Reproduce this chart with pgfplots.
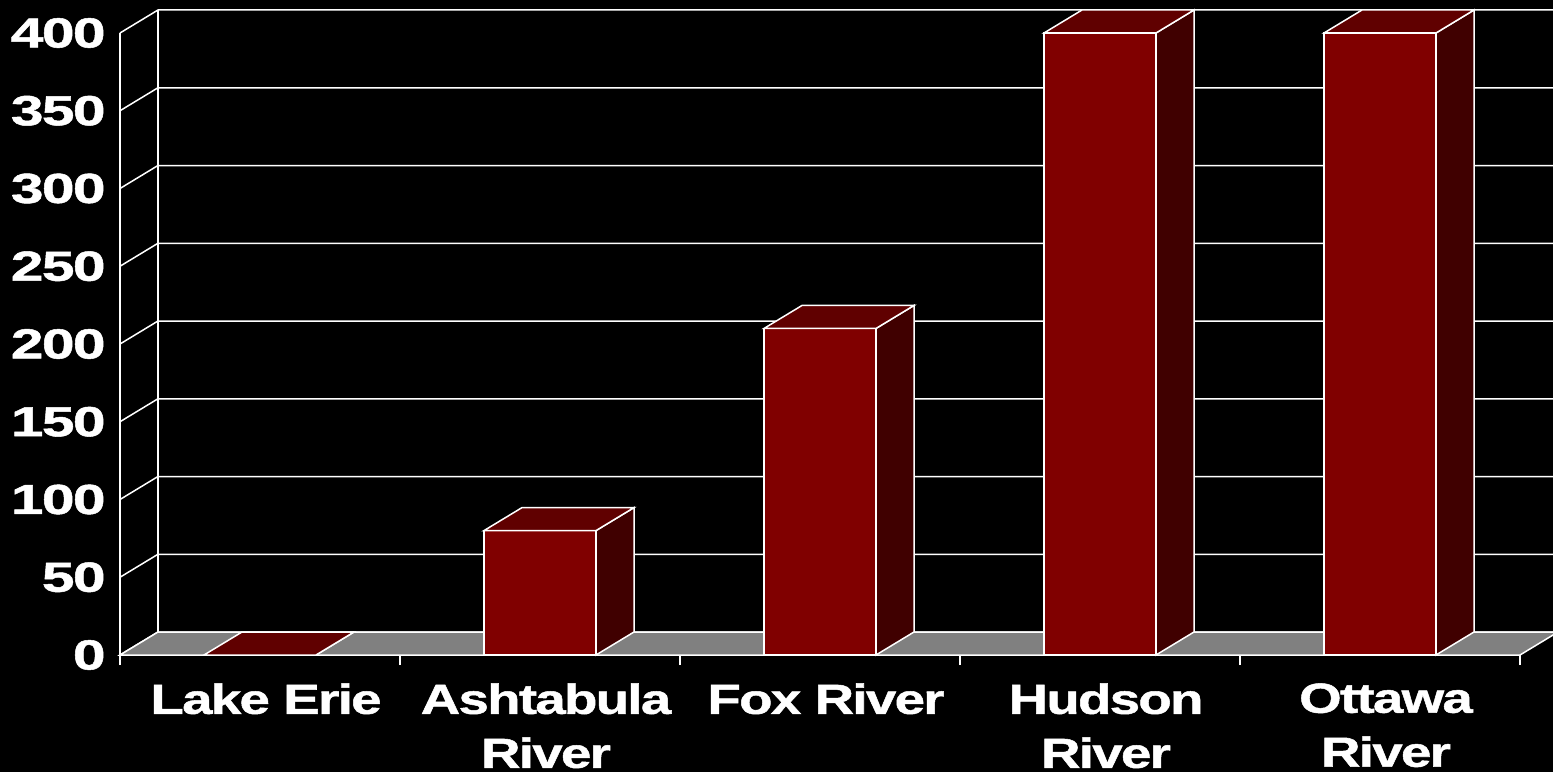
\documentclass[border=0pt]{standalone}
\usepackage{pgfplots}
\pgfplotsset{compat=1.18}
\usepackage{fontspec}
\setmainfont{Liberation Sans}
\newfontfamily\tickfont{Liberation Sans}[FakeStretch=1.4, FakeBold=1.2, LetterSpace=-4]
\newfontfamily\labfont{Liberation Sans}[FakeStretch=1.3, FakeBold=1.2, LetterSpace=-4]
\definecolor{barfront}{HTML}{800000}
\definecolor{bartop}{HTML}{600000}
\definecolor{barside}{HTML}{400000}
\definecolor{floorgray}{HTML}{808080}
\pgfdeclareplotmark{blank}{}

\begin{document}
\begin{tikzpicture}
\fill[black] (-60pt,-58.5pt) rectangle (716.5pt,327.5pt);
\begin{axis}[
  at={(0,0)}, anchor=south west,
  x=140pt, y=0.7775pt,
  xmin=0, xmax=5, ymin=0, ymax=400,
  enlargelimits=false, clip=false,
  axis line style={draw=none},
  xtick={0.5,1.5,2.5,3.5,4.5},
  xticklabels={Lake Erie, {Ashtabula\\River}, Fox River, {Hudson\\River}, {Ottawa\\River}},
  minor xtick={0,1,2,3,4,5},
  ytick={0,50,100,150,200,250,300,350,400},
  yticklabels={0,50,100,150,200,250,300,350,400},
  xtick pos=bottom, ytick pos=left,
  major tick length=0pt, minor tick length=5pt,
  tick align=outside,
  tick style={white, line width=0.75pt},
  xticklabel style={font=\labfont\bfseries\fontsize{21}{27}\selectfont, text=white,
    align=center, anchor=north, inner sep=0pt, yshift=-14pt, xshift=3pt},
  yticklabel style={font=\tickfont\bfseries\fontsize{21}{27}\selectfont, text=white,
    anchor=east, inner sep=0pt, xshift=-7pt},
]
% back wall and side wall lines
\pgfplotsinvokeforeach{0,50,100,150,200,250,300,350,400}{
  \draw[white, line width=0.75pt] (axis cs:0,#1) -- ++(19pt,11.5pt) -- ++(700pt,0pt);
}
\draw[white, line width=0.75pt] (axis cs:0,0) ++(19pt,11.5pt) -- ++(0pt,311pt);
% floor
\filldraw[fill=floorgray, draw=white, line width=0.75pt]
  (axis cs:0,0) -- (axis cs:5,0) -- ++(19pt,11.5pt) -- ++(-700pt,0pt) -- cycle;
\draw[white, line width=0.75pt] (axis cs:0,0) -- (axis cs:0,400);

% front faces
\addplot[ybar, bar width=56pt, bar shift=0pt, fill=barfront, draw=white, line width=0.75pt]
  coordinates {(0.5,0) (1.5,80) (2.5,210) (3.5,400) (4.5,400)};
% side and top faces
\addplot[scatter, only marks, mark=blank,
  visualization depends on={rawy \as \v},
  scatter/@pre marker code/.code={%
    \filldraw[fill=barside, draw=white, line width=0.75pt]
      (28pt,0pt) -- (47pt,11.5pt) -- (47pt,{11.5pt-\v*0.7775pt}) -- (28pt,{-\v*0.7775pt}) -- cycle;
    \filldraw[fill=bartop, draw=white, line width=0.75pt]
      (-28pt,0pt) -- (28pt,0pt) -- (47pt,11.5pt) -- (-9pt,11.5pt) -- cycle;
  },
  scatter/@post marker code/.code={}]
  coordinates {(0.5,0) (1.5,80) (2.5,210) (3.5,400) (4.5,400)};
\end{axis}
\pgfresetboundingbox
\path (-60pt,-58.5pt) rectangle (716.5pt,327.5pt);
\end{tikzpicture}
\end{document}
